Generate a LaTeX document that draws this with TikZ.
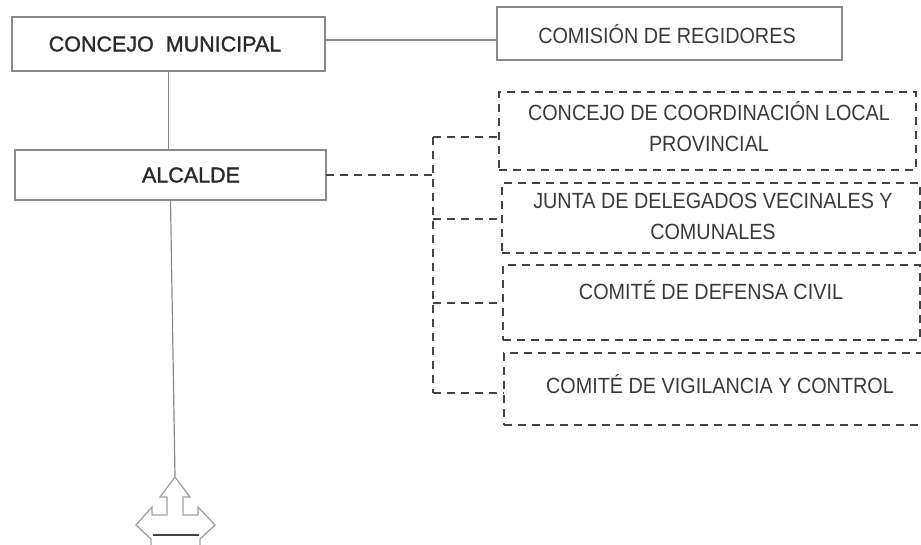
\documentclass[tikz,border=0pt]{standalone}
\usepackage{fontspec}
\setmainfont{Liberation Sans}
\newfontfamily\narrowfont[FakeStretch=0.9]{Liberation Sans}
\newfontfamily\heavyfont[FakeBold=1.5]{Liberation Sans}
\definecolor{txt}{HTML}{3A3A3A}
\definecolor{btxt}{HTML}{2A2A2A}
\definecolor{solidln}{HTML}{8A8A8A}
\definecolor{dashln}{HTML}{444444}
\definecolor{arrowln}{HTML}{A0A0A0}
\begin{document}
\begin{tikzpicture}[x=1pt,y=-1pt,
  solidbox/.style={draw=solidln,line width=1.2pt,minimum width=#1,inner sep=0pt,outer sep=0pt},
  dashbox/.style={draw=dashln,line width=1.3pt,dash pattern=on 8pt off 6pt,inner sep=0pt,outer sep=0pt},
  solidline/.style={draw=solidln,line width=1.2pt},
  dashline/.style={draw=dashln,line width=1.3pt,dash pattern=on 8pt off 6pt},
  lbl/.style={text=txt,font=\narrowfont\fontsize{22}{31}\selectfont,align=center,inner sep=0pt},
  blbl/.style={text=btxt,font=\heavyfont\fontsize{21.5}{31}\selectfont,align=center,inner sep=0pt}
]
\useasboundingbox (0,0) rectangle (921,544);
% solid boxes
\node[solidbox=313pt,minimum height=54pt] (concejo) at (168.5,44) {};
\node[blbl] (tconcejo) at (165,44) {CONCEJO\ \ MUNICIPAL};
\node[solidbox=311pt,minimum height=50pt] (alcalde) at (170.5,175) {};
\node[blbl] (talcalde) at (191,175) {ALCALDE};
\node[solidbox=345pt,minimum height=53pt] (comision) at (669.5,33.5) {};
\node[lbl] (tcomision) at (667,34) {COMISIÓN DE REGIDORES};
% dashed boxes
\node[dashbox,minimum width=417pt,minimum height=78pt] (b1) at (707.5,131) {};
\node[lbl] (tb1) at (709,126.5) {CONCEJO DE COORDINACIÓN LOCAL\\PROVINCIAL};
\node[dashbox,minimum width=418pt,minimum height=70pt] (b2) at (711,218) {};
\node[lbl] (tb2) at (713,216.5) {JUNTA DE DELEGADOS VECINALES Y\\COMUNALES};
\node[dashbox,minimum width=417pt,minimum height=75pt] (b3) at (711.5,302.5) {};
\node[lbl] (tb3) at (711,290) {COMITÉ DE DEFENSA CIVIL};
\node[dashbox,minimum width=419pt,minimum height=72pt] (b4) at (713.5,389) {};
\node[lbl] (tb4) at (720,384) {COMITÉ DE VIGILANCIA Y CONTROL};
% solid connectors
\coordinate (c1) at ([yshift=4pt]concejo.east);
\draw[solidline] (c1) -- (c1 -| comision.west);
\draw[solidline] (concejo.south) -- (concejo.south |- alcalde.north);
\coordinate (tip) at (175,477);
\draw[solidline] (alcalde.south) -- (tip);
% dashed bus
\coordinate (bt) at (433,137);
\coordinate (bb) at (433,393);
\draw[dashline] (alcalde.east) -- (alcalde.east -| bt);
\draw[dashline] (bt) -- (bb);
\draw[dashline] (bt) -- (bt -| b1.west);
\draw[dashline] (433,219) -- (433,219 -| b2.west);
\draw[dashline] (433,303) -- (433,303 -| b3.west);
\draw[dashline] (bb) -- (bb -| b4.west);
% arrow symbol
\draw[draw=arrowln,line width=1.3pt,line join=miter]
  (tip) -- ++(15,20) -- ++(-7,0) -- ++(0,18) -- ++(15,0) -- ++(0,-8)
  -- ++(17,18) -- ++(-15,14) -- ++(0,10);
\draw[draw=arrowln,line width=1.3pt,line join=miter]
  (tip) -- ++(-15,20) -- ++(7,0) -- ++(0,18) -- ++(-15,0) -- ++(0,-8)
  -- ++(-16,18) -- ++(15,14) -- ++(0,10);
\draw[draw=dashln,line width=1.8pt] ([shift={(-22,58)}]tip) -- ([shift={(24,58)}]tip);
\end{tikzpicture}
\end{document}
